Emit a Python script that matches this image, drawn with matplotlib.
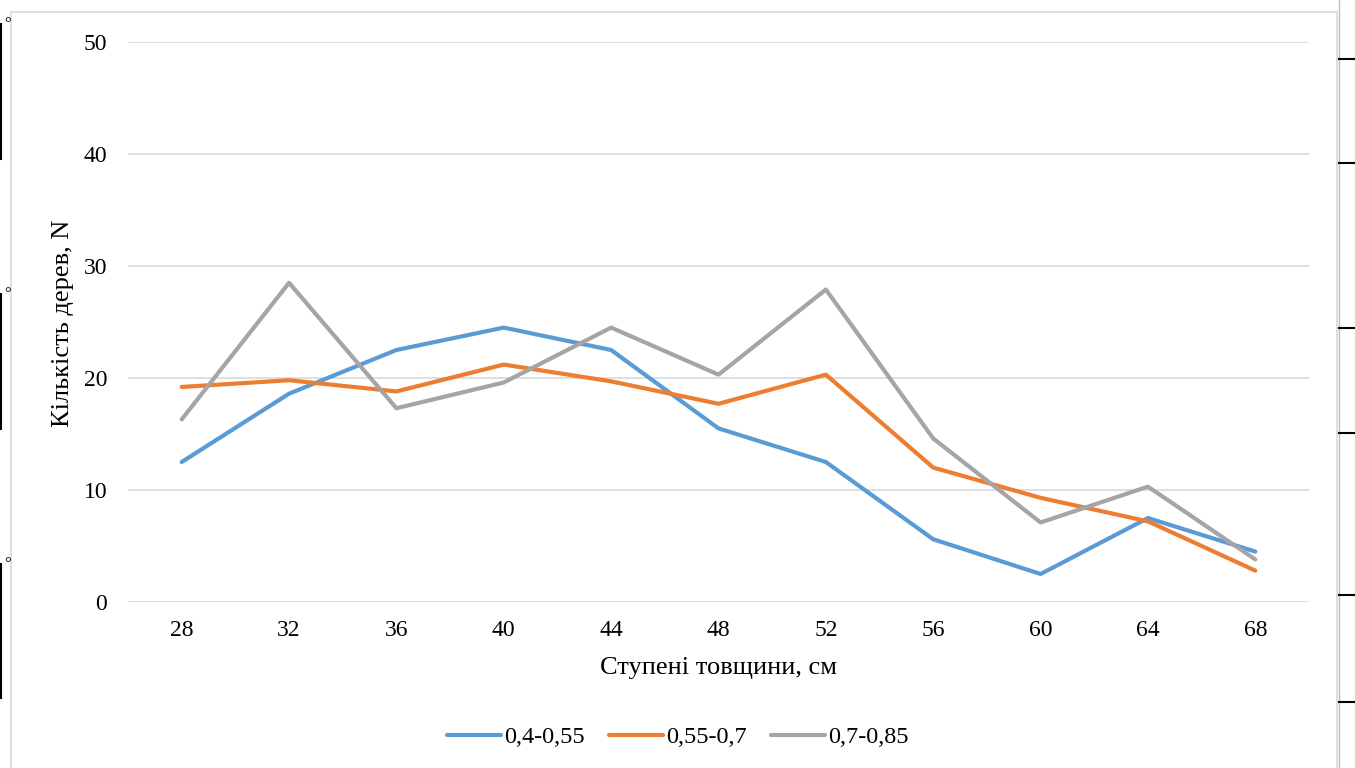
import numpy as np
import matplotlib.pyplot as plt
from matplotlib.lines import Line2D
from matplotlib.patches import Rectangle

plt.rcParams['font.family'] = ['Liberation Serif', 'DejaVu Serif']

# data
steps = ['28', '32', '36', '40', '44', '48', '52', '56', '60', '64', '68']
s1 = [12.5, 18.6, 22.5, 24.5, 22.5, 15.5, 12.5, 5.6, 2.5, 7.5, 4.5]
s2 = [19.2, 19.8, 18.8, 21.2, 19.7, 17.7, 20.3, 12.0, 9.3, 7.2, 2.8]
s3 = [16.3, 28.5, 17.3, 19.6, 24.5, 20.3, 27.9, 14.6, 7.1, 10.3, 3.8]
names = ['0,4-0,55', '0,55-0,7', '0,7-0,85']
colors = ['#5B9BD5', '#ED7D31', '#A5A5A5']

W, H = 1355, 768
fig = plt.figure(figsize=(W/100, H/100), dpi=100)
ax = fig.add_axes([128/W, 1-602/H, (1309-128)/W, (602-42)/H])

x = np.arange(len(steps))
for ys, c, n in zip([s1, s2, s3], colors, names):
    ax.plot(x, ys, color=c, lw=3, label=n, solid_capstyle='round', solid_joinstyle='round')

ax.set_xlim(-0.5, len(steps)-0.5)
ax.set_ylim(0, 50)
ax.set_yticks(range(0, 51, 10))
ax.set_xticks(x)
ax.set_xticklabels(steps)
ax.yaxis.grid(True, color='#D9D9D9', lw=1.2)
ax.set_axisbelow(True)
for sp in ax.spines.values():
    sp.set_visible(False)
ax.tick_params(length=0, labelsize=17, colors='#000000')
ax.tick_params(axis='y', pad=15)
ax.tick_params(axis='x', pad=13)
ax.set_xlabel('Ступені товщини, см', fontsize=19, va='center')
ax.set_ylabel('Кількість дерев, N', fontsize=19, va='center')
ax.xaxis.set_label_coords(0.5, (602-668)/560)
ax.yaxis.set_label_coords((63-128)/1181, (602-323)/560)

ax.legend(loc='center', bbox_to_anchor=(0.5, 1-737/H), bbox_transform=fig.transFigure,
          ncol=3, frameon=False, fontsize=17.5, handlelength=2.25, handletextpad=0.1,
          columnspacing=1.0)

# chart frame and page leftovers
fig.patches.append(Rectangle((11/W, -0.1), (1337-11)/W, 1.1-12/H, transform=fig.transFigure,
                             fill=False, ec='#D9D9D9', lw=1.2))
for y0, y1 in [(24, 159), (294, 429), (564, 698)]:
    fig.add_artist(Line2D([1/W, 1/W], [1-y0/H, 1-y1/H], color='black', lw=1.5))
    fig.text(4/W, 1-y0/H, '°', fontsize=12, va='center', ha='left')
fig.add_artist(Line2D([1339/W, 1339/W], [0, 1], color='#BFBFBF', lw=1))
for yt in [59, 163, 328, 433, 595, 702]:
    fig.add_artist(Line2D([1339/W, 1], [1-yt/H, 1-yt/H], color='black', lw=1.5))

fig.savefig('out.png', dpi=100)
